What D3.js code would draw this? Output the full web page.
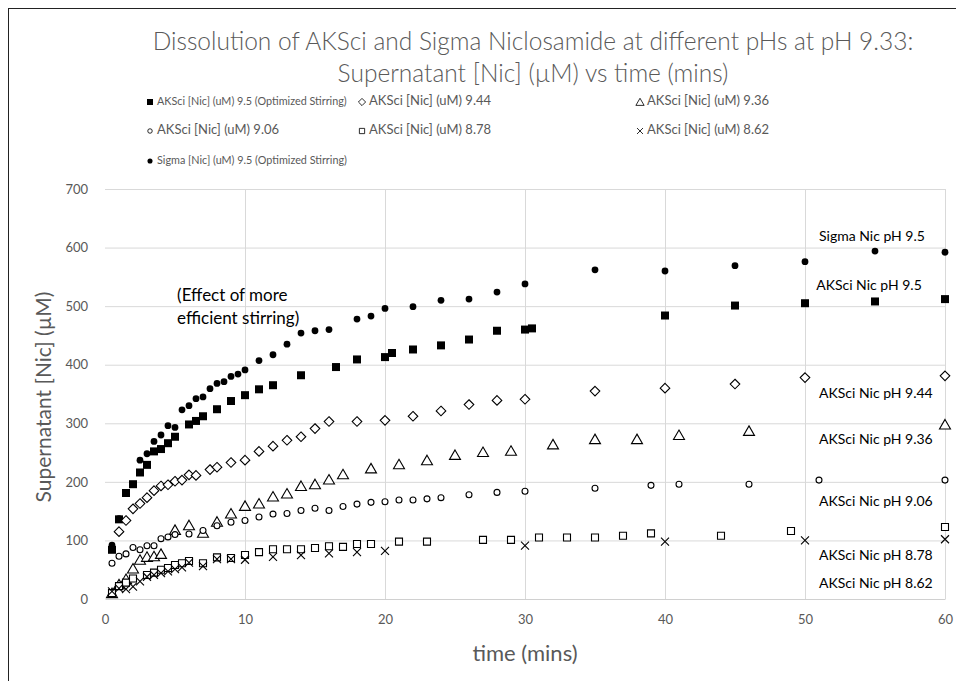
<!DOCTYPE html>
<html>
<head>
<meta charset="utf-8">
<script src="https://cdn.jsdelivr.net/npm/d3@7"></script>
<style>
  body { margin: 0; background: #fff; }
  svg text { font-family: Lato, "Open Sans", sans-serif; fill: #595959; }
</style>
</head>
<body>
<div id="chart"></div>
<script>
// AKSci 9.5 (filled square)
const aksci95 = [[0.5,84],[1,136],[1.5,181],[2,196],[2.5,216],[3,229],[3.5,252],[4,256],[4.5,266],[5,277],[6,298],[6.5,304],[7,312],[8,324],[9,338],[10,348],[11,358],[12,365],[14,382],[16.5,396],[18,409],[20,413],[20.5,420],[22,426],[24,433],[26,443],[28,458],[30,460],[30.5,462],[40,484],[45,501],[50,505],[55,508],[60,512]];
// AKSci 9.44 (diamond)
const aksci944 = [[1,115],[1.5,134],[2,154],[2.5,163],[3,173],[3.5,185],[4,193],[4.5,195],[5,201],[5.5,203],[6,212],[6.5,211],[7.5,221],[8,225],[9,233],[10,237],[11,252],[12,261],[13,271],[14,277],[15,291],[16,303],[18,303],[20,305],[22,312],[24,321],[26,332],[28,339],[30,341],[35,355],[40,360],[45,367],[50,378],[60,381]];
// AKSci 9.36 (triangle)
const aksci936 = [[0.5,10],[1,25],[1.5,34],[2,52],[2.5,67],[3,72],[3.5,73],[4,77],[5,118],[6,126],[7,113],[8,132],[9,146],[10,159],[11,163],[12,175],[13,180],[14,193],[15,196],[16,204],[17,213],[19,223],[21,230],[23,237],[25,246],[27,251],[29,253],[32,264],[35,273],[38,273],[41,280],[46,287],[60,298]];
// AKSci 9.06 (open circle)
const aksci906 = [[0.5,61],[1,73],[1.5,77],[2,88],[2.5,84],[3,91],[3.5,91],[4,103],[4.5,106],[5,110],[6,111],[7,117],[8,125],[9,131],[10,134],[11,140],[12,145],[13,146],[14,151],[15,155],[16,151],[17,158],[18,162],[19,165],[20,166],[21,169],[22,169],[23,171],[24,173],[26,178],[28,182],[30,184],[35,189],[39,194],[41,196],[46,196],[51,203],[60,203]];
// AKSci 8.78 (open square)
const aksci878 = [[0.5,10],[1,22],[1.5,28],[2,35],[3,41],[3.5,45],[4,50],[4.5,53],[5,58],[5.5,61],[6,65],[7,61],[8,71],[9,70],[10,75],[11,80],[12,85],[13,85],[14,85],[15,87],[16,90],[17,89],[18,94],[19,94],[21,98],[23,98],[27,101],[29,101],[31,105],[33,105],[35,105],[37,108],[39,112],[44,108],[49,116],[60,123]];
// AKSci 8.62 (cross)
const aksci862 = [[0.5,13],[1,18],[1.5,17],[2,21],[2.5,30],[3,38],[3.5,41],[4,44],[4.5,47],[5,51],[5.5,54],[6,62],[7,56],[8,68],[9,68],[10,67],[12,72],[14,75],[16,78],[18,80],[20,82],[30,91],[40,98],[50,100],[60,102]];
// Sigma 9.5 (filled circle)
const sigma95 = [[0.5,92],[1,137],[2.5,237],[3,248],[3.5,269],[4,280],[4.5,296],[5,293],[5.5,323],[6,330],[6.5,342],[7,345],[7.5,359],[8,368],[8.5,371],[9,380],[9.5,384],[10,391],[11,407],[12,417],[13,435],[14,454],[15,458],[16,460],[18,478],[19,483],[20,496],[22,499],[24,510],[26,512],[28,524],[30,538],[35,562],[40,560],[45,569],[50,576],[55,594],[60,592]];

const xTicks = [0, 10, 20, 30, 40, 50, 60];
const yTicks = [0, 100, 200, 300, 400, 500, 600, 700];

const titleLines = ["Dissolution of AKSci and Sigma Niclosamide at different pHs at pH 9.33:", "Supernatant [Nic] (\u00b5M) vs time (mins)"];

const seriesNames = ["AKSci [Nic] (uM) 9.5 (Optimized Stirring)", "AKSci [Nic] (uM) 9.44", "AKSci [Nic] (uM) 9.36",
    "AKSci [Nic] (uM) 9.06", "AKSci [Nic] (uM) 8.78", "AKSci  [Nic] (uM) 8.62", "Sigma [Nic] (uM) 9.5 (Optimized Stirring)"];
const seriesData = [aksci95, aksci944, aksci936, aksci906, aksci878, aksci862, sigma95];
const seriesShapes = ["fsquare", "diamond", "triangle", "ocircle", "osquare", "cross", "fcircle"];

const labels = [
    {text: "Sigma Nic pH 9.5", x: 51.0, y: 618},
    {text: "AKSci Nic pH 9.5", x: 50.8, y: 533},
    {text: "AKSci Nic pH 9.44", x: 51.0, y: 350},
    {text: "AKSci Nic pH 9.36", x: 51.0, y: 270},
    {text: "AKSci Nic pH 9.06", x: 51.0, y: 165},
    {text: "AKSci Nic pH 8.78", x: 51.0, y: 72},
    {text: "AKSci Nic pH 8.62", x: 51.0, y: 25}
];

const width = 956, height = 681;
const margin = {top: 189, right: 11, bottom: 82, left: 105};
const plotW = width - margin.left - margin.right,
    plotH = height - margin.top - margin.bottom;

const svg = d3.select("#chart").append("svg")
    .attr("width", width)
    .attr("height", height);

// outer frame
svg.append("rect")
    .attr("x", 8.5).attr("y", 8.5)
    .attr("width", 1000).attr("height", 1000)
    .style("fill", "none").style("stroke", "#222").style("stroke-width", 1);

// title
svg.selectAll(".title").data(titleLines).enter().append("text")
    .attr("class", "title")
    .attr("x", 533)
    .attr("y", (d, i) => 44 + i * 32)
    .attr("text-anchor", "middle")
    .attr("dominant-baseline", "middle")
    .style("font-size", "24.5px")
    .style("font-weight", 300)
    .text(d => d);

const x = d3.scaleLinear().domain([0, 60]).range([0, plotW]);
const y = d3.scaleLinear().domain([0, 700]).range([plotH, 0]);

const plot = svg.append("g").attr("transform", `translate(${margin.left},${margin.top})`);

// gridlines
plot.append("g").selectAll("line").data(yTicks.slice(1)).enter().append("line")
    .attr("x1", 0).attr("x2", plotW)
    .attr("y1", d => y(d) + 0.5).attr("y2", d => y(d) + 0.5)
    .style("stroke", "#d9d9d9");
plot.append("g").selectAll("line").data(xTicks.slice(1)).enter().append("line")
    .attr("x1", d => x(d) + 0.5).attr("x2", d => x(d) + 0.5)
    .attr("y1", 0).attr("y2", plotH)
    .style("stroke", "#d9d9d9");

// axes
const xAxis = plot.append("g")
    .attr("transform", `translate(0,${plotH})`)
    .call(d3.axisBottom(x).tickValues(xTicks).tickSize(0).tickPadding(16));
xAxis.select(".domain").style("stroke", "#d0d0d0");
xAxis.selectAll("text").style("font-size", "13px").style("fill", "#595959");

const yAxis = plot.append("g")
    .call(d3.axisLeft(y).tickValues(yTicks).tickSize(0).tickPadding(17));
yAxis.select(".domain").remove();
yAxis.selectAll("text").style("font-size", "13px").style("fill", "#595959");

// axis titles
svg.append("text")
    .attr("transform", "translate(46,397) rotate(-90)")
    .attr("text-anchor", "middle")
    .attr("dominant-baseline", "middle")
    .style("font-size", "21px")
    .text("Supernatant [Nic] (\u00b5M)");
svg.append("text")
    .attr("x", margin.left + x(30))
    .attr("y", 655)
    .attr("text-anchor", "middle")
    .attr("dominant-baseline", "middle")
    .style("font-size", "22px")
    .text("time (mins)");

function shapePath(shape) {
    switch (shape) {
        case "fsquare": return "M-4,-4H4V4H-4Z";
        case "osquare": return "M-3.5,-3.5H3.5V3.5H-3.5Z";
        case "diamond": return "M0,-4.8L4.8,0L0,4.8L-4.8,0Z";
        case "triangle": return "M0,-5L5.5,4.5H-5.5Z";
        case "cross": return "M-4,-4L4,4M4,-4L-4,4";
        case "fcircle": return d3.symbol(d3.symbolCircle, 36)();
        case "ocircle": return d3.symbol(d3.symbolCircle, 28)();
    }
}

function shapeStyle(sel, shape) {
    const filled = shape === "fsquare" || shape === "fcircle";
    sel.style("fill", filled ? "#000" : "#fff")
        .style("stroke", "#000")
        .style("stroke-width", filled ? 0 : 1.1);
    if (shape === "cross") sel.style("fill", "none");
}

seriesData.forEach(function (data, i) {
    const g = plot.append("g");
    g.selectAll("path").data(data).enter().append("path")
        .attr("transform", d => `translate(${x(d[0])},${y(d[1])})`)
        .attr("d", shapePath(seriesShapes[i]))
        .call(shapeStyle, seriesShapes[i]);
});

// series labels
plot.selectAll(".serieslabel").data(labels).enter().append("text")
    .attr("x", d => x(d.x))
    .attr("y", d => y(d.y))
    .attr("dominant-baseline", "middle")
    .style("font-size", "14px")
    .style("fill", "#000")
    .text(d => d.text);

// annotation
plot.append("text")
    .attr("y", y(508))
    .style("font-size", "17px")
    .style("fill", "#000")
    .selectAll("tspan").data(["(Effect of more", "efficient stirring)"]).enter().append("tspan")
    .attr("x", x(5.15))
    .attr("dy", (d, i) => i === 0 ? 0 : 23)
    .text(d => d);

// legend (long entries are squeezed, as in the original)
const legendPos = [[150, 102], [362, 102], [640, 102], [150, 131], [362, 131], [640, 131], [150, 161]];
const legendSize = [10.8, 13, 13, 13, 13, 13, 10.8];
const legend = svg.append("g").attr("class", "legend");
seriesNames.forEach(function (name, i) {
    const item = legend.append("g").attr("transform", `translate(${legendPos[i][0]},${legendPos[i][1]})`);
    item.append("path")
        .attr("d", shapePath(seriesShapes[i]))
        .attr("transform", "scale(0.75)")
        .call(shapeStyle, seriesShapes[i]);
    item.append("text")
        .attr("x", 7)
        .attr("dominant-baseline", "middle")
        .style("font-size", legendSize[i] + "px")
        .text(name);
});
</script>
</body>
</html>
